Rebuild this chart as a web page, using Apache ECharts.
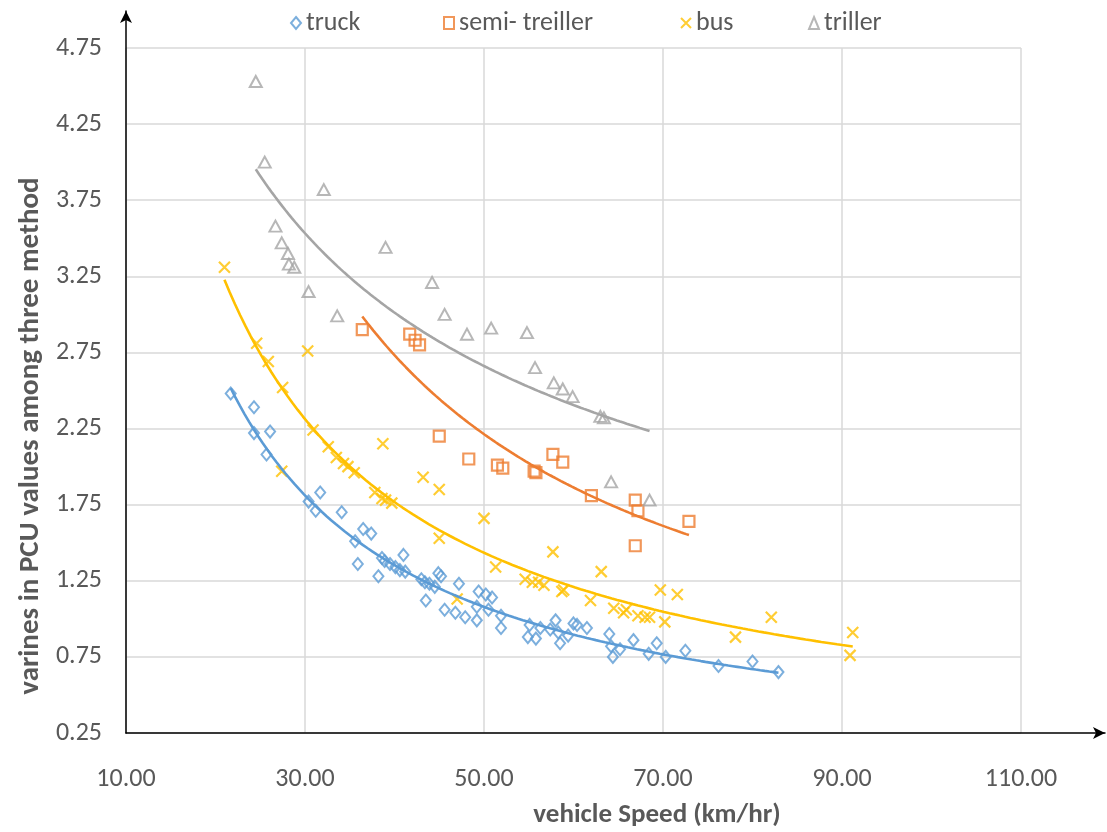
<!DOCTYPE html>
<html>
<head>
<meta charset="utf-8">
<script src="https://cdn.jsdelivr.net/npm/echarts@6/dist/echarts.min.js"></script>
<style>
html,body{margin:0;padding:0;background:#fff;}
#chart{width:1107px;height:832px;}
</style>
</head>
<body>
<div id="chart"></div>
<script>
// ---- data ----
const seriesNames = ['truck', 'semi- treiller', 'bus', 'triller'];

const truckSpeed = [21.7,24.3,24.3,26.1,25.7,30.4,31.7,31.2,34.1,35.6,36.5,37.4,35.9,38.6,38.9,39.5,40.1,41.0,40.6,41.2,38.2,43.0,43.4,43.9,44.5,44.9,45.2,43.5,47.2,45.6,46.8,47.9,49.2,49.4,50.2,50.9,49.2,50.5,51.9,51.9,55.1,56.3,54.9,55.8,57.4,58.0,58.3,58.5,59.4,60.0,60.4,61.5,64.0,64.2,64.4,65.2,66.7,68.4,69.3,70.3,72.5,76.2,80.0,82.9];
const truckPCU   = [2.48,2.39,2.22,2.23,2.08,1.77,1.83,1.71,1.70,1.51,1.59,1.56,1.36,1.40,1.38,1.36,1.34,1.42,1.32,1.31,1.28,1.26,1.24,1.23,1.21,1.30,1.28,1.12,1.23,1.06,1.04,1.01,0.99,1.18,1.16,1.14,1.08,1.06,1.02,0.94,0.96,0.94,0.88,0.87,0.93,0.99,0.91,0.84,0.89,0.97,0.96,0.94,0.90,0.82,0.75,0.80,0.86,0.77,0.84,0.75,0.79,0.69,0.72,0.65];

const semiSpeed = [36.4,41.7,42.3,42.8,45.0,48.3,51.5,52.1,55.6,55.8,57.7,58.8,62.0,66.9,67.2,72.9,66.9];
const semiPCU   = [2.90,2.87,2.83,2.80,2.20,2.05,2.01,1.99,1.97,1.96,2.08,2.03,1.81,1.78,1.71,1.64,1.48];

const busSpeed = [21.0,24.6,25.9,27.5,30.3,30.9,32.6,33.5,34.3,34.8,35.5,27.4,38.7,37.8,38.6,39.0,39.7,43.2,45.0,50.0,45.0,51.3,47.0,57.7,63.1,54.6,55.4,56.1,56.7,58.7,58.9,61.9,64.5,65.6,65.9,67.2,68.0,68.5,69.7,71.6,70.2,78.1,82.1,91.2,90.9];
const busPCU   = [3.31,2.81,2.69,2.52,2.76,2.24,2.13,2.06,2.02,2.00,1.96,1.97,2.15,1.83,1.79,1.78,1.76,1.93,1.85,1.66,1.53,1.34,1.13,1.44,1.31,1.26,1.24,1.24,1.22,1.18,1.19,1.12,1.07,1.04,1.06,1.02,1.01,1.01,1.19,1.16,0.98,0.88,1.01,0.91,0.76];

const trillerSpeed = [24.5,25.5,32.1,26.7,27.4,28.1,28.2,28.8,39.0,30.4,44.2,33.6,45.6,48.1,50.8,54.8,55.7,57.8,58.8,59.9,63.0,63.4,64.2,68.5];
const trillerPCU   = [4.53,4.00,3.82,3.58,3.47,3.40,3.33,3.31,3.44,3.15,3.21,2.99,3.00,2.87,2.91,2.88,2.65,2.55,2.51,2.46,2.33,2.32,1.90,1.78];

const xTicks = [10, 30, 50, 70, 90, 110];
const yTicks = [0.25, 0.75, 1.25, 1.75, 2.25, 2.75, 3.25, 3.75, 4.25, 4.75];

// ---- helpers ----
function pairs(xs, ys) { return xs.map((x, i) => [x, ys[i]]); }
// power trendline (least squares on ln-ln), as a spreadsheet power trendline does
function powerTrend(xs, ys, steps) {
  const n = xs.length;
  let sx = 0, sy = 0, sxx = 0, sxy = 0;
  for (let i = 0; i < n; i++) {
    const lx = Math.log(xs[i]), ly = Math.log(ys[i]);
    sx += lx; sy += ly; sxx += lx * lx; sxy += lx * ly;
  }
  const b = (n * sxy - sx * sy) / (n * sxx - sx * sx);
  const a = Math.exp((sy - b * sx) / n);
  const lo = Math.min(...xs), hi = Math.max(...xs);
  const out = [];
  for (let k = 0; k <= steps; k++) {
    const x = lo + (hi - lo) * k / steps;
    out.push([x, a * Math.pow(x, b)]);
  }
  return out;
}

const FONT = "Carlito, 'Liberation Sans Narrow', 'DejaVu Sans Condensed', sans-serif";
const colors = ['#5B9BD5', '#ED7D31', '#FFC000', '#A5A5A5'];
const crossPath = 'path://M0,0L10,10M10,0L0,10';

function scatter(name, data, symbol, size, color, bw) {
  return {
    name: name, type: 'scatter', xAxisIndex: 0, yAxisIndex: 0,
    data: data, symbol: symbol, symbolSize: size,
    itemStyle: { color: 'rgba(255,255,255,0)', borderColor: color, borderWidth: bw },
    emphasis: { disabled: true }, z: 3
  };
}
function trend(name, data, color) {
  return {
    name: name + ' trend', type: 'line', xAxisIndex: 0, yAxisIndex: 0,
    data: data, showSymbol: false, symbol: 'none', smooth: false,
    lineStyle: { color: color, width: 2.6 }, z: 4, silent: true
  };
}
const legendLefts = [285, 438, 675, 803];
function legendFor(i) {
  return {
    data: [seriesNames[i]], top: 5, left: legendLefts[i],
    itemWidth: 10, itemHeight: 12,
    textStyle: { fontFamily: FONT, fontSize: 26, color: '#595959' }
  };
}

const chart = echarts.init(document.getElementById('chart'), null, { renderer: 'canvas' });
const option = {
  backgroundColor: '#ffffff',
  animation: false,
  color: colors,
  textStyle: { fontFamily: FONT },
  legend: [legendFor(0), legendFor(1), legendFor(2), legendFor(3)],
  grid: [
    { left: 126, right: 86, top: 48, bottom: 99 },
    { left: 126, right: 2, top: 11, bottom: 99 }
  ],
  xAxis: [
    {
      type: 'value', gridIndex: 0, min: 10, max: 110,
      axisLine: { show: false },
      axisTick: { show: false, customValues: xTicks },
      axisLabel: { customValues: xTicks, formatter: v => v.toFixed(2), fontFamily: FONT, fontSize: 26, color: '#595959', margin: 33 },
      splitLine: { show: true, lineStyle: { color: '#D9D9D9', width: 1.5 } }
    },
    {
      type: 'value', gridIndex: 1, min: 0, max: 1,
      axisLine: { show: true, symbol: ['none', 'arrow'], symbolSize: [9, 12], lineStyle: { color: '#000', width: 1.5 } },
      axisTick: { show: false }, axisLabel: { show: false }, splitLine: { show: false }
    }
  ],
  yAxis: [
    {
      type: 'value', gridIndex: 0, min: 0.25, max: 4.75,
      axisLine: { show: false },
      axisTick: { show: false, customValues: yTicks },
      axisLabel: { customValues: yTicks, formatter: v => v.toFixed(2), fontFamily: FONT, fontSize: 26, color: '#595959', margin: 24 },
      splitLine: { show: true, lineStyle: { color: '#D9D9D9', width: 1.5 } }
    },
    {
      type: 'value', gridIndex: 1, min: 0, max: 1,
      axisLine: { show: true, symbol: ['none', 'arrow'], symbolSize: [9, 12], lineStyle: { color: '#000', width: 1.5 } },
      axisTick: { show: false }, axisLabel: { show: false }, splitLine: { show: false }
    }
  ],
  graphic: [
    {
      type: 'text', rotation: Math.PI / 2, position: [31, 436],
      style: { text: 'varines in PCU values among three method', fontFamily: FONT, fontSize: 29, fontWeight: 'bold', fill: '#595959', textAlign: 'center', textVerticalAlign: 'middle' }
    },
    {
      type: 'text', position: [657, 815],
      style: { text: 'vehicle Speed (km/hr)', fontFamily: FONT, fontSize: 27, fontWeight: 'bold', fill: '#595959', textAlign: 'center', textVerticalAlign: 'middle' }
    }
  ],
  series: [
    scatter('truck', pairs(truckSpeed, truckPCU), 'diamond', [10, 12], colors[0], 2),
    scatter('semi- treiller', pairs(semiSpeed, semiPCU), 'rect', 11, colors[1], 2.2),
    scatter('bus', pairs(busSpeed, busPCU), crossPath, 11, colors[2], 2.2),
    scatter('triller', pairs(trillerSpeed, trillerPCU), 'triangle', [12, 11], colors[3], 2),
    trend('truck', powerTrend(truckSpeed, truckPCU, 120), colors[0]),
    trend('semi- treiller', powerTrend(semiSpeed, semiPCU, 120), colors[1]),
    trend('bus', powerTrend(busSpeed, busPCU, 120), colors[2]),
    trend('triller', powerTrend(trillerSpeed, trillerPCU, 120), colors[3])
  ]
};
chart.setOption(option);
</script>
</body>
</html>
